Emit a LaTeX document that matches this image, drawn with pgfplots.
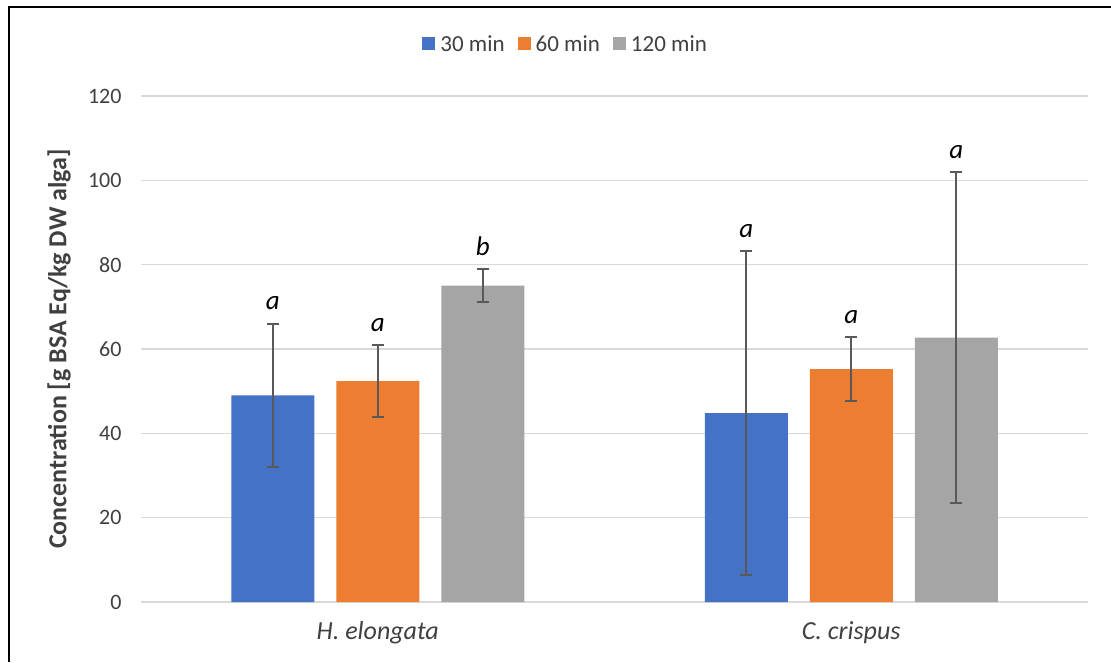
\documentclass[border=0pt]{standalone}
\usepackage{fontspec}
\setmainfont{Carlito}
\usepackage{pgfplots}
\usepackage{pgfplotstable}
\pgfplotsset{compat=1.18}

\definecolor{serBlue}{HTML}{4472C4}
\definecolor{serOrange}{HTML}{ED7D31}
\definecolor{serGray}{HTML}{A5A5A5}
\definecolor{gridGray}{HTML}{D9D9D9}
\definecolor{errGray}{HTML}{595959}
\definecolor{txtGray}{HTML}{404040}

% x: 0 = H. elongata, 1 = C. crispus; err = half-length of the error bar
\pgfplotstableread{
x y err lab
0 49.0 17.0 a
1 44.8 38.4 a
}\tabThirty
\pgfplotstableread{
x y err lab
0 52.4 8.5 a
1 55.2 7.6 a
}\tabSixty
\pgfplotstableread{
x y err lab
0 75.0 3.9 b
1 62.7 39.3 a
}\tabOneTwenty

\newcommand{\tickfont}{\fontsize{22}{26}\selectfont}
\newcommand{\legfont}{\fontsize{23}{27}\selectfont}
\newcommand{\titlefont}{\fontsize{26}{30}\selectfont}

\begin{document}
\begin{tikzpicture}
\useasboundingbox (0pt,0pt) rectangle (1111pt,662pt);
% outer frame
\draw[line width=2pt,black] (8.5pt,0pt) -- (8.5pt,655pt) -- (1111pt,655pt);

\begin{axis}[
  at={(141pt,60pt)}, anchor=south west,
  scale only axis, width=947pt, height=506pt,
  xmin=-0.5, xmax=1.5, ymin=0, ymax=120,
  ytick={0,20,...,120},
  xtick={0,1},
  xticklabels={\textit{H. elongata},\textit{C. crispus}},
  major tick length=0pt,
  axis line style={draw=none},
  ymajorgrids, grid style={gridGray, line width=1.5pt},
  /pgf/number format/assume math mode=true,
  ticklabel style={text=txtGray},
  yticklabel style={font=\tickfont, xshift=-16pt},
  xticklabel style={font=\titlefont, yshift=-16pt},
  every axis y label/.style={at={(axis description cs:-0.0866,0.5)}, rotate=90, anchor=center},
  ylabel={\bfseries Concentration [g BSA Eq/kg DW alga]},
  label style={font=\titlefont, text=txtGray},
  ybar=22pt, bar width=83pt,
  error bars/y dir=both, error bars/y explicit,
  error bars/error bar style={errGray, line width=1.8pt},
  error bars/error mark options={rotate=90, mark size=6pt, line width=1.8pt, errGray},
  point meta=explicit symbolic,
  nodes near coords,
  visualization depends on={\thisrow{err} \as \errval},
  every node near coord/.append style={font=\fontsize{27}{31}\selectfont\itshape, text=black, anchor=south, yshift={\errval*4.21667pt+10pt}},
  legend style={draw=none, at={(0.45,1)}, anchor=center, yshift=52pt, legend columns=3, font=\legfont, text=txtGray,
    nodes={inner xsep=5pt},
    /tikz/every even column/.append style={column sep=8pt}},
  legend image code/.code={\fill[#1] (0pt,-6.5pt) rectangle (13pt,6.5pt);},
]
\addplot[fill=serBlue, draw=none] table[x=x, y=y, y error=err, meta=lab] {\tabThirty};
\addlegendentry{30 min}
\addplot[fill=serOrange, draw=none] table[x=x, y=y, y error=err, meta=lab] {\tabSixty};
\addlegendentry{60 min}
\addplot[fill=serGray, draw=none] table[x=x, y=y, y error=err, meta=lab] {\tabOneTwenty};
\addlegendentry{120 min}
\end{axis}
\end{tikzpicture}
\end{document}
